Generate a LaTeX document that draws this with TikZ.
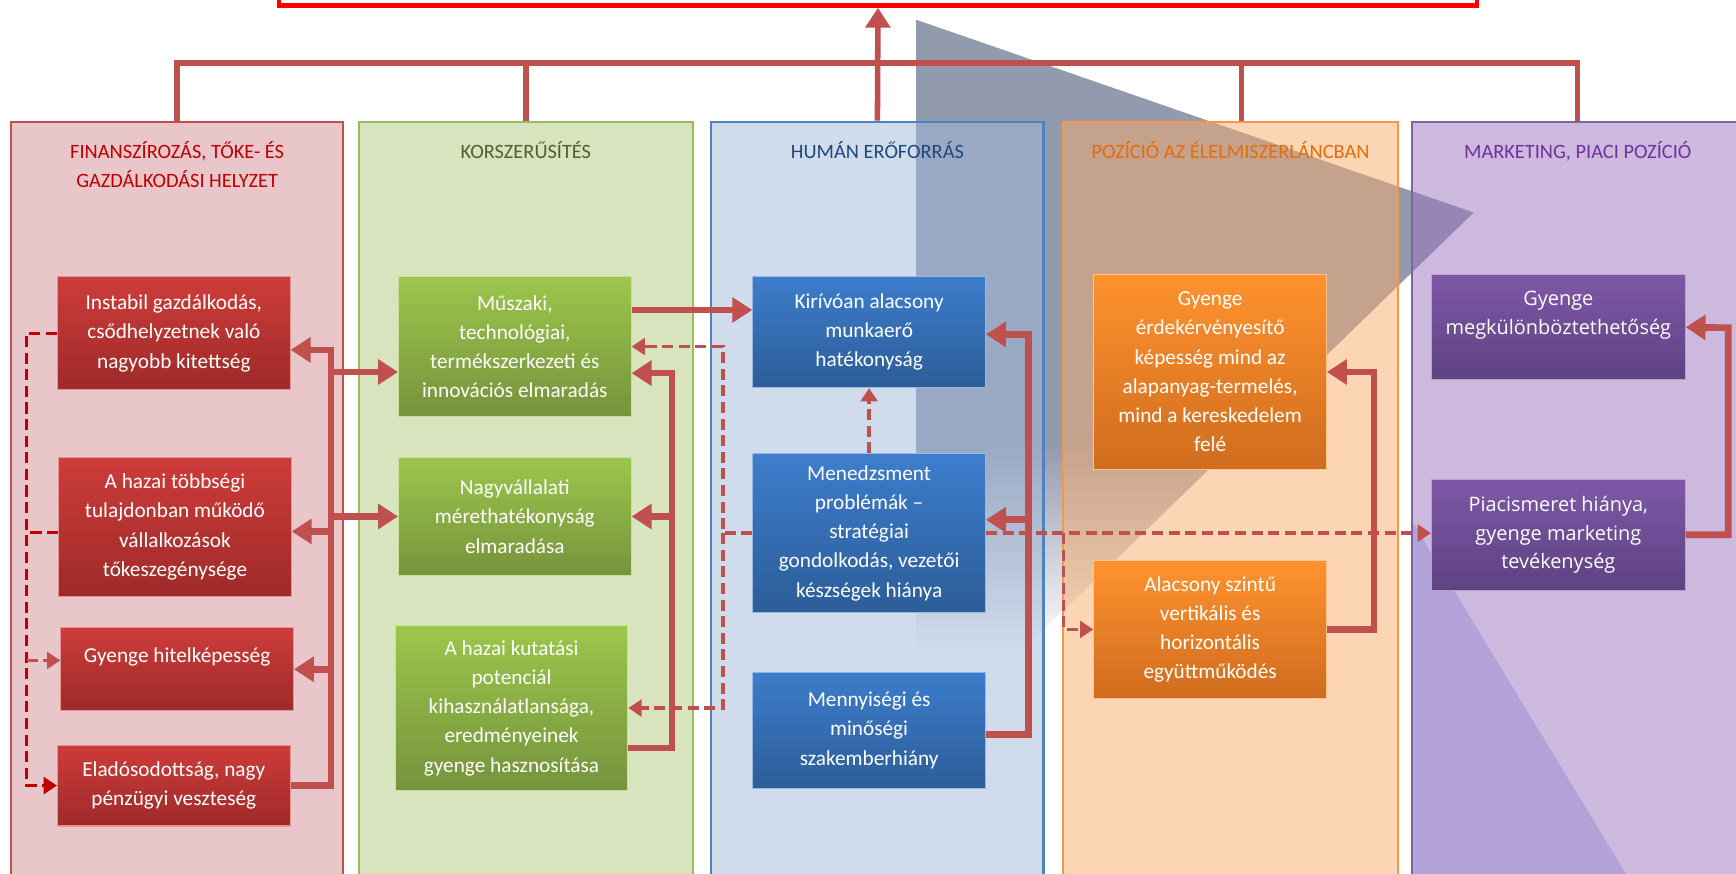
\documentclass[tikz,border=0pt]{standalone}
\usepackage{fontspec}
\setmainfont{Carlito}
\newfontfamily\lilabetu{Open Sans}
\usetikzlibrary{positioning}
\usetikzlibrary{arrows.meta}

\definecolor{kotes}{RGB}{192,80,77}
\definecolor{szaggpiros}{RGB}{192,0,0}
\definecolor{celpiros}{RGB}{255,0,0}
\definecolor{haromszogszin}{RGB}{146,154,174}
\definecolor{tukorszin}{RGB}{205,210,245}
\definecolor{finkeret}{RGB}{192,80,77}
\definecolor{finhatter}{RGB}{209,141,149}
\definecolor{finfelirat}{RGB}{192,0,0}
\definecolor{korkeret}{RGB}{155,187,89}
\definecolor{korhatter}{RGB}{175,201,123}
\definecolor{korfelirat}{RGB}{79,98,40}
\definecolor{humkeret}{RGB}{79,129,189}
\definecolor{humhatter}{RGB}{161,185,217}
\definecolor{humfelirat}{RGB}{31,73,125}
\definecolor{pozkeret}{RGB}{247,150,70}
\definecolor{pozhatter}{RGB}{249,171,105}
\definecolor{pozfelirat}{RGB}{228,108,10}
\definecolor{markkeret}{RGB}{128,100,162}
\definecolor{markhatter}{RGB}{155,115,189}
\definecolor{markfelirat}{RGB}{112,48,160}
\definecolor{pirosfel}{RGB}{205,60,58}
\definecolor{pirosle}{RGB}{158,42,41}
\definecolor{zoldfel}{RGB}{155,198,75}
\definecolor{zoldle}{RGB}{118,147,60}
\definecolor{kekfel}{RGB}{61,125,204}
\definecolor{kekle}{RGB}{44,93,152}
\definecolor{narancsfel}{RGB}{255,146,46}
\definecolor{narancsle}{RGB}{207,108,30}
\definecolor{lilafel}{RGB}{126,88,168}
\definecolor{lilale}{RGB}{94,66,129}

\pgfdeclareverticalshading{haromszogarnyek}{100bp}{color(0bp)=(white); color(32bp)=(white); color(46bp)=(haromszogszin); color(100bp)=(haromszogszin)}

\newcommand{\dobozbetu}{\fontsize{9.6}{13.2}\selectfont}
\newcommand{\lilaszoveg}{\lilabetu\fontsize{9}{13}\selectfont}
\newcommand{\fejlecbetu}{\fontsize{9.2}{13.5}\selectfont}

\tikzset{
panel/.style 2 args={
rectangle,
draw=#1,
fill=#2,
fill opacity=0.5,
line width=1pt,
minimum width=150pt,
minimum height=350pt},
fejlec/.style={
font=\fejlecbetu,
text=#1,
align=center,
inner sep=3pt},
ok/.style 2 args={
rectangle,
draw=#1!55!white,
line width=0.5pt,
top color=#1,
bottom color=#2,
text=white,
align=center,
font=\dobozbetu,
minimum width=105pt,
inner sep=2pt},
cel/.style={
draw=celpiros,
line width=2pt,
minimum width=541pt,
minimum height=22.5pt},
sinvonal/.style={draw=kotes, line width=2.5pt},
vastag/.style={draw=kotes, line width=3pt},
szagg/.style={draw=kotes, line width=1.5pt, dash pattern=on 5pt off 2.5pt},
nagyfej/.style={-{Triangle[length=9pt,width=11pt]}},
kisfej/.style={-{Triangle[length=6pt,width=7.5pt]}}}

\begin{document}
\begin{tikzpicture}[x=0.5pt, y=-0.5pt]
\useasboundingbox (0,0) rectangle (1568,789);
\shade[shading=haromszogarnyek] (828,18) -- (1331,192) -- (828,680) -- cycle;
\fill[tukorszin] (1275,470) -- (1475,800) -- (1275,800) -- cycle;

\node[cel] (cel) at (793,-17.5) {};

\node[panel={finkeret}{finhatter}] (pfin) at (160,460) {};
\node[panel={korkeret}{korhatter}, minimum width=151pt] (pkor) at (475,460) {};
\node[panel={humkeret}{humhatter}] (phum) at (792.5,460) {};
\node[panel={pozkeret}{pozhatter}, minimum width=151.5pt] (ppoz) at (1111.5,460) {};
\node[panel={markkeret}{markhatter}] (pmark) at (1425,460) {};

\node[fejlec=finfelirat, below=6pt of pfin.north] (hfin) {FINANSZÍROZÁS, TŐKE- ÉS\\GAZDÁLKODÁSI HELYZET};
\node[fejlec=korfelirat, below=6pt of pkor.north] (hkor) {KORSZERŰSÍTÉS};
\node[fejlec=humfelirat, below=6pt of phum.north] (hhum) {HUMÁN ERŐFORRÁS};
\node[fejlec=pozfelirat, below=6pt of ppoz.north] (hpoz) {POZÍCIÓ AZ ÉLELMISZERLÁNCBAN};
\node[fejlec=markfelirat, below=6pt of pmark.north] (hmark) {MARKETING, PIACI POZÍCIÓ};

\coordinate (buszy) at (0,57);
\draw[sinvonal] (pfin.north) |- (pmark.north |- buszy) -- (pmark.north);
\draw[sinvonal] (pkor.north) -- (pkor.north |- buszy);
\draw[sinvonal] ([xshift=5pt]ppoz.north) -- ([xshift=5pt]ppoz.north |- buszy);
\draw[sinvonal, nagyfej] (phum.north) -- (cel.south);

\node[ok={pirosfel}{pirosle}, minimum height=51pt] (F1) at (157,301) {Instabil gazdálkodás,\\csődhelyzetnek való\\nagyobb kitettség};
\node[ok={pirosfel}{pirosle}, minimum height=63pt] (F2) at (158,476) {A hazai többségi\\tulajdonban működő\\vállalkozások\\tőkeszegénysége};
\node[ok={pirosfel}{pirosle}, minimum height=37.5pt] (F3) at (160,604.5) {Gyenge hitelképesség\\\mbox{}};
\node[ok={pirosfel}{pirosle}, minimum height=36.5pt] (F4) at (157,709.5) {Eladósodottság, nagy\\pénzügyi veszteség};

\node[ok={zoldfel}{zoldle}, minimum height=63pt] (K1) at (465,313) {Műszaki,\\technológiai,\\termékszerkezeti és\\innovációs elmaradás};
\node[ok={zoldfel}{zoldle}, minimum height=53.5pt] (K2) at (465,466.5) {Nagyvállalati\\mérethatékonyság\\elmaradása};
\node[ok={zoldfel}{zoldle}, minimum height=74.5pt] (K3) at (462,639.5) {A hazai kutatási\\potenciál\\kihasználatlansága,\\eredményeinek\\gyenge hasznosítása};

\node[ok={kekfel}{kekle}, minimum height=50pt] (H1) at (785,300) {Kirívóan alacsony\\munkaerő\\hatékonyság};
\node[ok={kekfel}{kekle}, minimum height=71.5pt] (H2) at (785,481.5) {Menedzsment\\problémák –\\stratégiai\\gondolkodás, vezetői\\készségek hiánya};
\node[ok={kekfel}{kekle}, minimum height=52.5pt] (H3) at (785,659.5) {Mennyiségi és\\minőségi\\szakemberhiány};

\node[ok={narancsfel}{narancsle}, minimum height=88pt] (P1) at (1093,336) {Gyenge\\érdekérvényesítő\\képesség mind az\\alapanyag-termelés,\\mind a kereskedelem\\felé};
\node[ok={narancsfel}{narancsle}, minimum height=62.5pt] (P2) at (1093,568.5) {Alacsony szintű\\vertikális és\\horizontális\\együttműködés};

\node[ok={lilafel}{lilale}, font=\lilaszoveg, minimum width=114.5pt, minimum height=47.5pt] (M1) at (1407.5,295.5) {Gyenge\\megkülönböztethetőség\\\mbox{}};
\node[ok={lilafel}{lilale}, font=\lilaszoveg, minimum width=114.5pt, minimum height=50pt] (M2) at (1407.5,483) {Piacismeret hiánya,\\gyenge marketing\\tevékenység};

\coordinate (fgerinc) at (299,316);
\draw[vastag, nagyfej] (F4.east) -| (fgerinc) -- (F1.east |- fgerinc);
\draw[vastag, nagyfej] ([yshift=-2pt]F2.east -| fgerinc) -- ([yshift=-2pt]F2.east);
\draw[vastag, nagyfej] (F3.east -| fgerinc) -- (F3.east);
\draw[vastag, nagyfej] ([yshift=-10pt]fgerinc) -- ([yshift=-10pt]fgerinc -| K1.west);
\draw[vastag, nagyfej] (K2.west -| fgerinc) -- (K2.west);

\coordinate (kgerinc) at (607,337);
\draw[vastag, nagyfej] ([yshift=-18pt]K3.east) -| (kgerinc) -- (kgerinc -| K1.east);
\draw[vastag, nagyfej] (K2.east -| kgerinc) -- (K2.east);
\draw[vastag, nagyfej] ([yshift=16.5pt]K1.east) -- ([yshift=16.5pt]K1.east -| H1.west);

\coordinate (hgerinc) at (929,302);
\draw[vastag, nagyfej] ([yshift=-2pt]H3.east) -| (hgerinc) -- (hgerinc -| H1.east);
\draw[vastag, nagyfej] ([yshift=6pt]H2.east -| hgerinc) -- ([yshift=6pt]H2.east);

\coordinate (pgerinc) at (1241,336);
\draw[vastag, nagyfej] (P2.east) -| (pgerinc) -- (P1.east);

\coordinate (mgerinc) at (1561,296);
\draw[vastag, nagyfej] (M2.east) -| (mgerinc) -- (M1.east);

\coordinate (fszagg) at (24,301);
\draw[szagg, draw=szaggpiros, kisfej] (F1.west) -- (fszagg) |- (F4.west);
\draw[szagg, draw=szaggpiros] ([yshift=-2.5pt]F2.west) -- ([yshift=-2.5pt]F2.west -| fszagg);
\draw[szagg, kisfej] ([yshift=4pt]F3.west -| fszagg) -- ([yshift=4pt]F3.west);

\coordinate (hszagg) at (653,481.5);
\draw[szagg, kisfej] (H2.west) -- (hszagg) |- (K1.east);
\draw[szagg, kisfej] (hszagg) |- (K3.east);
\draw[szagg, kisfej] (H2.north) -- (H1.south);
\draw[szagg, kisfej] (H2.east) -- (H2.east -| M2.west);
\draw[szagg, kisfej] ([xshift=35pt]H2.east) |- (P2.west);
\end{tikzpicture}
\end{document}
